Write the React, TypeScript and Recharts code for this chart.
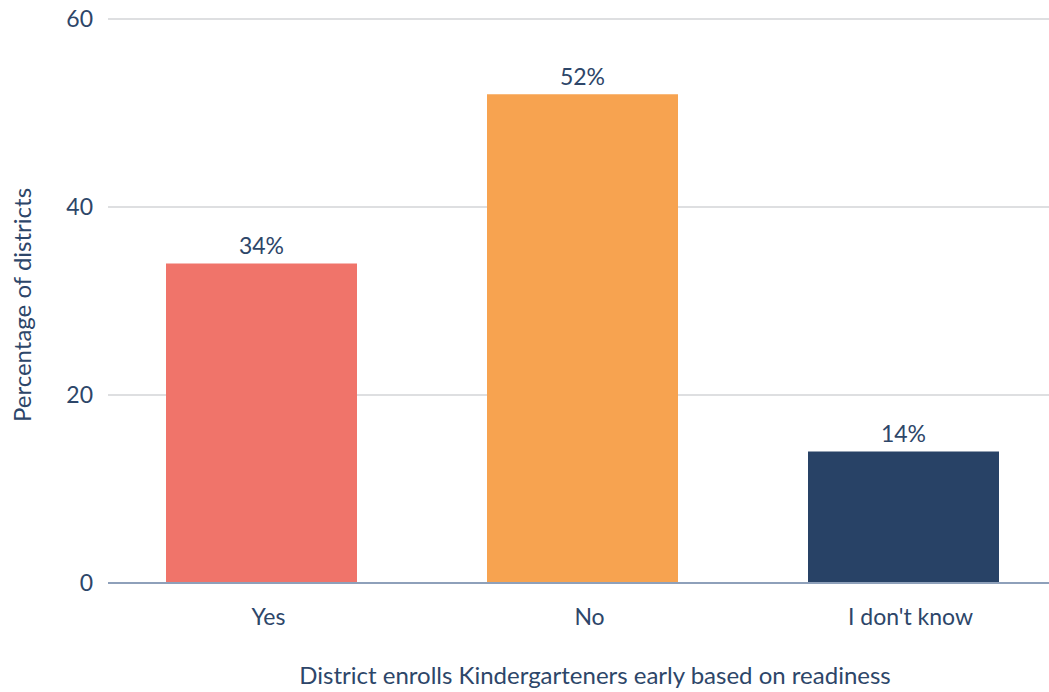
import React from 'react';
import { BarChart, Bar, XAxis, YAxis, CartesianGrid, Cell, LabelList, Label } from 'recharts';

const categories = ['Yes', 'No', "I don't know"];
const percentages = [34, 52, 14];
const barColors = ['#F0746A', '#F7A350', '#284266'];
const yTicks = [0, 20, 40, 60];

const data = categories.map((name, i) => ({ name, value: percentages[i] }));

const TEXT = '#2d4669';
const FONT = 'Lato, "Open Sans", sans-serif';

export default function App() {
  return (
    <div style={{ position: 'absolute', left: 0, top: 0, width: 1049, height: 692, overflow: 'hidden', background: '#fff' }}>
      <BarChart
        width={1070}
        height={692}
        data={data}
        margin={{ top: 19, right: 6, left: 0, bottom: 0 }}
        barCategoryGap={65}
        style={{ fontFamily: FONT }}
      >
        <CartesianGrid vertical={false} stroke="#dedfe1" strokeWidth={2} />
        <XAxis
          dataKey="name"
          height={109}
          padding={{ left: -7, right: 0 }}
          axisLine={{ stroke: '#8ea0ba', strokeWidth: 2 }}
          tickLine={false}
          tickSize={0}
          tickMargin={26}
          tick={{ fill: TEXT, fontSize: 23, dx: 7 }}
        >
          <Label
            content={({ viewBox }: any) => (
              <text
                x={viewBox.x + viewBox.width / 2 + 9}
                y={684}
                textAnchor="middle"
                fill={TEXT}
                fontSize={24}
                fontFamily={FONT}
              >
                District enrolls Kindergarteners early based on readiness
              </text>
            )}
          />
        </XAxis>
        <YAxis
          width={108}
          domain={[0, 60]}
          ticks={yTicks}
          axisLine={false}
          tickLine={false}
          tickSize={0}
          tickMargin={15}
          tick={{ fill: TEXT, fontSize: 23 }}
        >
          <Label
            content={({ viewBox }: any) => {
              const cy = viewBox.y + viewBox.height / 2 + 4;
              return (
                <text
                  x={31}
                  y={cy}
                  transform={`rotate(-90, 31, ${cy})`}
                  textAnchor="middle"
                  fill={TEXT}
                  fontSize={24}
                  fontFamily={FONT}
                >
                  Percentage of districts
                </text>
              );
            }}
          />
        </YAxis>
        <Bar dataKey="value" isAnimationActive={false}>
          {data.map((d, i) => (
            <Cell key={d.name} fill={barColors[i]} />
          ))}
          <LabelList
            dataKey="value"
            position="top"
            offset={9}
            formatter={(v: any) => `${v}%`}
            fill={TEXT}
            fontSize={23}
          />
        </Bar>
      </BarChart>
    </div>
  );
}
